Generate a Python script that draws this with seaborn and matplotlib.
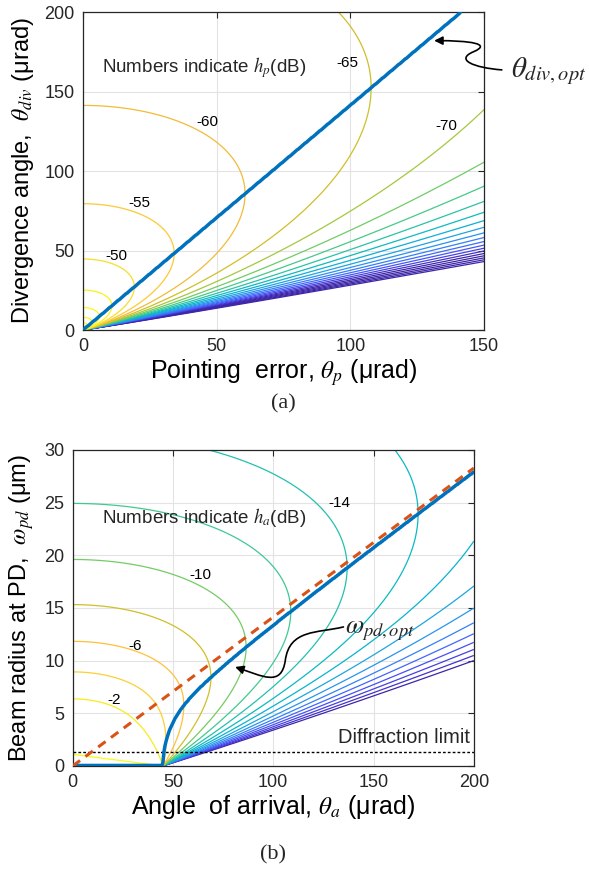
import numpy as np
import matplotlib
matplotlib.use("Agg")
import matplotlib.pyplot as plt
import seaborn as sns
from matplotlib.colors import LinearSegmentedColormap, Normalize
from matplotlib.path import Path
from matplotlib.patches import FancyArrowPatch

# ---------------- (a) pointing loss h_p ----------------
hp_at_1urad_db = -17.0                 # h_p on axis for a 1 urad divergence
theta_p_lim = [0, 150]
theta_div_lim = [0, 200]
hp_levels = list(range(-155, -20, 5))  # contour levels (dB)
hp_label_text = ["-50", "-55", "-60", "-65", "-70"]
hp_label_x = [12.6, 21, 46.4, 99, 136]
hp_label_y = [46.7, 80, 131, 168, 128]

# ---------------- (b) angle-of-arrival loss h_a ----------------
pd_radius_um = 4.5                     # photodiode radius
focal_um_per_urad = 0.1                # spot shift per urad of AoA
theta_a_lim = [0, 200]
w_pd_lim = [0, 30]
ha_levels = list(range(-34, 0, 2))     # contour levels (dB)
# colour position (0..1 of parula) of each level
ha_level_tone = [0.0, 0.05, 0.09, 0.14, 0.20, 0.27, 0.33, 0.39, 0.44,
                 0.48, 0.52, 0.58, 0.65, 0.76, 0.85, 0.89, 0.96]
ha_zero_x = [0, 45]                    # 0 dB contour (numerical edge)
ha_zero_y = [1.1, 0]
ha_label_text = ["-2", "-6", "-10", "-14"]
ha_label_x = [20.5, 31, 63.5, 133]
ha_label_y = [6.3, 11.4, 18.1, 25]
diffraction_limit_um = 1.35

# MATLAB parula colormap (entries of its 64-colour table, index/63)
parula_idx = [0, 4, 9, 14, 19, 24, 29, 34, 38, 42, 45, 48, 51, 53, 56, 59, 63]
parula_rgb = [
    (0.2422, 0.1504, 0.6603), (0.2706, 0.2147, 0.8364), (0.2810, 0.3228, 0.9579),
    (0.2440, 0.4358, 0.9988), (0.1764, 0.5499, 0.9520), (0.1248, 0.6459, 0.8883),
    (0.0036, 0.7203, 0.7917), (0.1717, 0.7670, 0.6554), (0.2906, 0.7973, 0.5188),
    (0.5044, 0.7993, 0.3480), (0.6720, 0.7793, 0.2227), (0.8203, 0.7498, 0.1535),
    (0.9393, 0.7288, 0.2100), (0.9956, 0.7434, 0.2371), (0.9892, 0.8136, 0.1885),
    (0.9610, 0.8890, 0.1537), (0.9769, 0.9839, 0.0805)]
parula = LinearSegmentedColormap.from_list(
    "parula", [(i / 63, c) for i, c in zip(parula_idx, parula_rgb)])
mat_blue = (0, 0.447, 0.741)
mat_red = (0.85, 0.325, 0.098)

sns.set_theme(style="whitegrid")
plt.rcParams["font.family"] = ["Liberation Sans", "DejaVu Sans"]
plt.rcParams["mathtext.fontset"] = "stix"


def erf(z):
    # Abramowitz & Stegun 7.1.26
    t = 1.0 / (1.0 + 0.3275911 * z)
    poly = t * (0.254829592 + t * (-0.284496736 + t * (1.421413741 + t * (-1.453152027 + t * 1.061405429))))
    return 1.0 - poly * np.exp(-z * z)


# field (a)
tp = np.linspace(theta_p_lim[0], theta_p_lim[1], 301)
td = np.linspace(0.25, theta_div_lim[1], 800)
TP, TD = np.meshgrid(tp, td)
hp_db = hp_at_1urad_db - 20 * np.log10(TD) - 20 / np.log(10) * TP ** 2 / TD ** 2
imax = np.argmax(hp_db, axis=0)
inside = imax < len(td) - 1
tp_opt, td_opt = tp[inside], td[imax[inside]]

# field (b): Gaussian spot of radius w on a circular PD, shifted by f*theta_a
ta = np.linspace(theta_a_lim[0], theta_a_lim[1], 401)
wg = np.linspace(0.05, w_pd_lim[1], 600)
xs = np.linspace(-pd_radius_um, pd_radius_um, 1201)
shift = focal_um_per_urad * ta
P = np.zeros((len(wg), len(ta)))
half_chord = np.sqrt(np.clip(pd_radius_um ** 2 - xs ** 2, 0, None))
for i, w in enumerate(wg):
    E = erf(np.sqrt(2) * half_chord / w)
    G = np.sqrt(2 / np.pi) / w * np.exp(-2 * (xs[None, :] - shift[:, None]) ** 2 / w ** 2)
    P[i] = np.trapezoid(G * E[None, :], xs, axis=1)
ha_db = 10 * np.log10(np.clip(P, 1e-300, None))
best = ha_db.max(axis=0)
w_opt = wg[np.argmax(ha_db >= best[None, :] - 1e-6, axis=0)]

fig = plt.figure(figsize=(5.89, 8.77), dpi=100)
ax1 = fig.add_axes([0.141, 0.6237, 0.681, 0.3626])
ax2 = fig.add_axes([0.1234, 0.1266, 0.681, 0.3603])

# ---- panel (a)
ax1.contour(TP, TD, hp_db, levels=hp_levels, cmap=parula,
            norm=Normalize(vmin=-134, vmax=-43, clip=True), linewidths=0.9)
sns.lineplot(x=tp_opt, y=td_opt, ax=ax1, color=mat_blue, lw=2.5, sort=False,
             errorbar=None, zorder=5)
for s, x, y in zip(hp_label_text, hp_label_x, hp_label_y):
    ax1.text(x, y, s, fontsize=11, ha="center", va="center", color="black")
ax1.text(7, 165, "Numbers indicate $h_p$(dB)", fontsize=13.5, va="center")
ax1.set_xlim(theta_p_lim)
ax1.set_ylim(theta_div_lim)
ax1.set_xticks([0, 50, 100, 150])
ax1.set_yticks([0, 50, 100, 150, 200])
ax1.set_xlabel(r"Pointing  error, $\theta_p$ (μrad)", fontsize=18, labelpad=1)
ax1.set_ylabel(r"Divergence angle,  $\theta_{div}$ (μrad)", fontsize=17, labelpad=6)
ax1.text(174, 163, r"$\theta_{div,opt}$", fontsize=21, ha="center", va="center",
         clip_on=False)
squiggle_a = Path([(156.6, 163.6), (146, 165), (139, 170), (146, 175),
                   (153, 180), (145, 182), (131.3, 182)],
                  [Path.MOVETO, Path.CURVE4, Path.CURVE4, Path.CURVE4,
                   Path.CURVE4, Path.CURVE4, Path.CURVE4])
ax1.add_patch(FancyArrowPatch(path=squiggle_a, arrowstyle="-|>,head_length=5,head_width=2.5",
                              color="black", lw=1.2, clip_on=False, zorder=6))

# ---- panel (b)
ax2.contour(ta, wg, ha_db, levels=ha_levels,
            colors=[parula(t) for t in ha_level_tone], linewidths=0.9)
ax2.plot(ha_zero_x, ha_zero_y, color=parula(1.0), lw=0.9)
sns.lineplot(x=ta, y=w_opt, ax=ax2, color=mat_blue, lw=2.5, sort=False,
             errorbar=None, zorder=5)
sns.lineplot(x=ta, y=np.sqrt(2) * focal_um_per_urad * ta, ax=ax2, color=mat_red,
             lw=2.2, dashes=(3, 2.2), errorbar=None, zorder=6)
ax2.axhline(diffraction_limit_um, color="black", lw=1.0, ls=(0, (2, 1.5)), zorder=4)
ax2.text(198, diffraction_limit_um + 0.45, "Diffraction limit", fontsize=14.5,
         ha="right", va="bottom")
for s, x, y in zip(ha_label_text, ha_label_x, ha_label_y):
    ax2.text(x, y, s, fontsize=11, ha="center", va="center", color="black")
ax2.text(14.6, 23.6, "Numbers indicate $h_a$(dB)", fontsize=13.5, va="center")
ax2.text(136, 12.8, r"$\omega_{pd,opt}$", fontsize=19, ha="left", va="center")
squiggle_b = Path([(135, 13.2), (122, 12.6), (108, 13), (106, 10),
                   (104, 7.5), (95, 8.5), (81, 9.4)],
                  [Path.MOVETO, Path.CURVE4, Path.CURVE4, Path.CURVE4,
                   Path.CURVE4, Path.CURVE4, Path.CURVE4])
ax2.add_patch(FancyArrowPatch(path=squiggle_b, arrowstyle="-|>,head_length=5,head_width=2.5",
                              color="black", lw=1.2, zorder=7))
ax2.set_xlim(theta_a_lim)
ax2.set_ylim(w_pd_lim)
ax2.set_xticks([0, 50, 100, 150, 200])
ax2.set_yticks([0, 5, 10, 15, 20, 25, 30])
ax2.set_xlabel(r"Angle  of arrival, $\theta_a$ (μrad)", fontsize=18, labelpad=1)
ax2.set_ylabel(r"Beam radius at PD,  $\omega_{pd}$ (μm)", fontsize=17, labelpad=6)

for ax in (ax1, ax2):
    ax.grid(True, color="#e3e3e3", lw=0.8)
    ax.set_axisbelow(True)
    for sp in ax.spines.values():
        sp.set_visible(True)
        sp.set_color("#262626")
        sp.set_linewidth(0.9)
    ax.tick_params(direction="in", length=4, width=0.8, top=True, right=True,
                   labelsize=13, labelcolor="#262626", pad=6, color="#262626")
    ax.xaxis.label.set_color("black")
    ax.yaxis.label.set_color("black")

fig.text(283.5 / 589, 1 - 404 / 877, "(a)", fontsize=16, ha="center", va="center",
         family=["Liberation Serif", "DejaVu Serif"])
fig.text(273 / 589, 1 - 855 / 877, "(b)", fontsize=16, ha="center", va="center",
         family=["Liberation Serif", "DejaVu Serif"])

fig.savefig("out.png", dpi=100)
